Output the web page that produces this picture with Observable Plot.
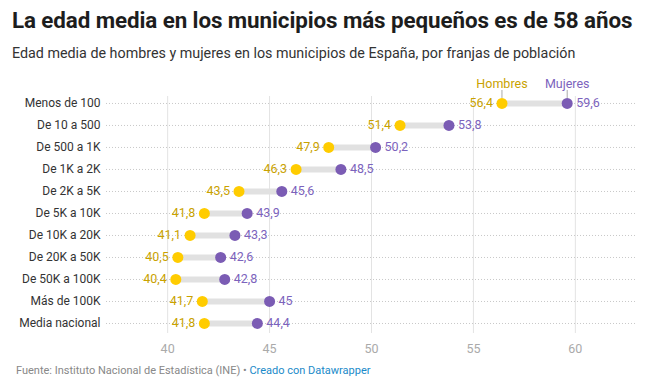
<!DOCTYPE html>
<html>
<head>
<meta charset="utf-8">
<script src="https://cdn.jsdelivr.net/npm/d3@7"></script>
<script src="https://cdn.jsdelivr.net/npm/@observablehq/plot@0.6"></script>
<style>
  body { margin: 0; background: #fff; font-family: Roboto, "Noto Sans", sans-serif; }
  #wrap { width: 663px; height: 387px; position: relative; overflow: hidden; }
  h1 { position: absolute; left: 12px; top: 7px; margin: 0; font-size: 22.4px; font-weight: 700; color: #1d1d1d; letter-spacing: -0.1px; white-space: nowrap; }
  .sub { position: absolute; left: 12px; top: 45px; margin: 0; font-size: 14.3px; color: #333; white-space: nowrap; }
  #chart { position: absolute; left: 0; top: 68px; }
  .foot { position: absolute; left: 16px; top: 364px; font-size: 11px; color: #888; }
  .foot a { color: #1a8ac9; text-decoration: none; }
</style>
</head>
<body>
<div id="wrap">
  <h1>La edad media en los municipios más pequeños es de 58 años</h1>
  <div class="sub">Edad media de hombres y mujeres en los municipios de España, por franjas de población</div>
  <div id="chart"></div>
  <div class="foot">Fuente: Instituto Nacional de Estadística (INE) • <a>Creado con Datawrapper</a></div>
</div>
<script>
const categories = ["Menos de 100","De 10 a 500","De 500 a 1K","De 1K a 2K","De 2K a 5K","De 5K a 10K","De 10K a 20K","De 20K a 50K","De 50K a 100K","Más de 100K","Media nacional"];
const hombres = [56.4, 51.4, 47.9, 46.3, 43.5, 41.8, 41.1, 40.5, 40.4, 41.7, 41.8];
const mujeres = [59.6, 53.8, 50.2, 48.5, 45.6, 43.9, 43.3, 42.6, 42.8, 45, 44.4];
const xTicks = [40, 45, 50, 55, 60];
const seriesNames = ["Hombres", "Mujeres"];

const data = categories.map((c, i) => ({cat: c, h: hombres[i], m: mujeres[i]}));
const first = data.slice(0, 1);
const fmt = v => String(v).replace(".", ",");

const YEL = "#ffcc00", PUR = "#7b5cb4", YELT = "#c9a200", PURT = "#7c63bd";

const plot = Plot.plot({
  width: 663,
  height: 290,
  marginLeft: 106,
  marginRight: 27,
  marginTop: 28,
  marginBottom: 25,
  style: {fontFamily: "Roboto, sans-serif", fontSize: "12px", background: "transparent"},
  x: {domain: [37, 63], ticks: xTicks, grid: false},
  y: {type: "point", domain: categories, padding: 0.386, align: 0.41, round: false},
  marks: [
    Plot.ruleX(xTicks, {stroke: "#e3e3e3", strokeWidth: 1}),
    Plot.ruleY(categories, {y: d => d, stroke: "#c8c8c8", strokeDasharray: "1,2", strokeWidth: 1}),
    Plot.axisX({ticks: xTicks, tickSize: 0, tickPadding: 11, color: "#aaa", fontSize: 12.5, label: null}),
    Plot.axisY({tickSize: 0, tickPadding: 6, color: "#333", fontSize: 12, label: null}),
    Plot.ruleY(data, {y: "cat", x1: "h", x2: "m", stroke: "#e1e1e1", strokeWidth: 6}),
    Plot.ruleX(first, {x: "h", y1: "cat", y2: "cat", insetTop: -13, insetBottom: 5, stroke: "#aaa"}),
    Plot.ruleX(first, {x: "m", y1: "cat", y2: "cat", insetTop: -13, insetBottom: 5, stroke: "#aaa"}),
    Plot.text(first, {x: "h", y: "cat", text: () => seriesNames[0], dy: -19, fill: YELT, fontSize: 12.5}),
    Plot.text(first, {x: "m", y: "cat", text: () => seriesNames[1], dy: -19, fill: PURT, fontSize: 12.5}),
    Plot.dot(data, {x: "h", y: "cat", r: 5.5, fill: YEL}),
    Plot.dot(data, {x: "m", y: "cat", r: 5.5, fill: PUR}),
    Plot.text(data, {x: "h", y: "cat", text: d => fmt(d.h), dx: -9, textAnchor: "end", fill: YELT, fontSize: 12.5}),
    Plot.text(data, {x: "m", y: "cat", text: d => fmt(d.m), dx: 9, textAnchor: "start", fill: PURT, fontSize: 12.5})
  ]
});
document.getElementById("chart").appendChild(plot);
</script>
</body>
</html>
